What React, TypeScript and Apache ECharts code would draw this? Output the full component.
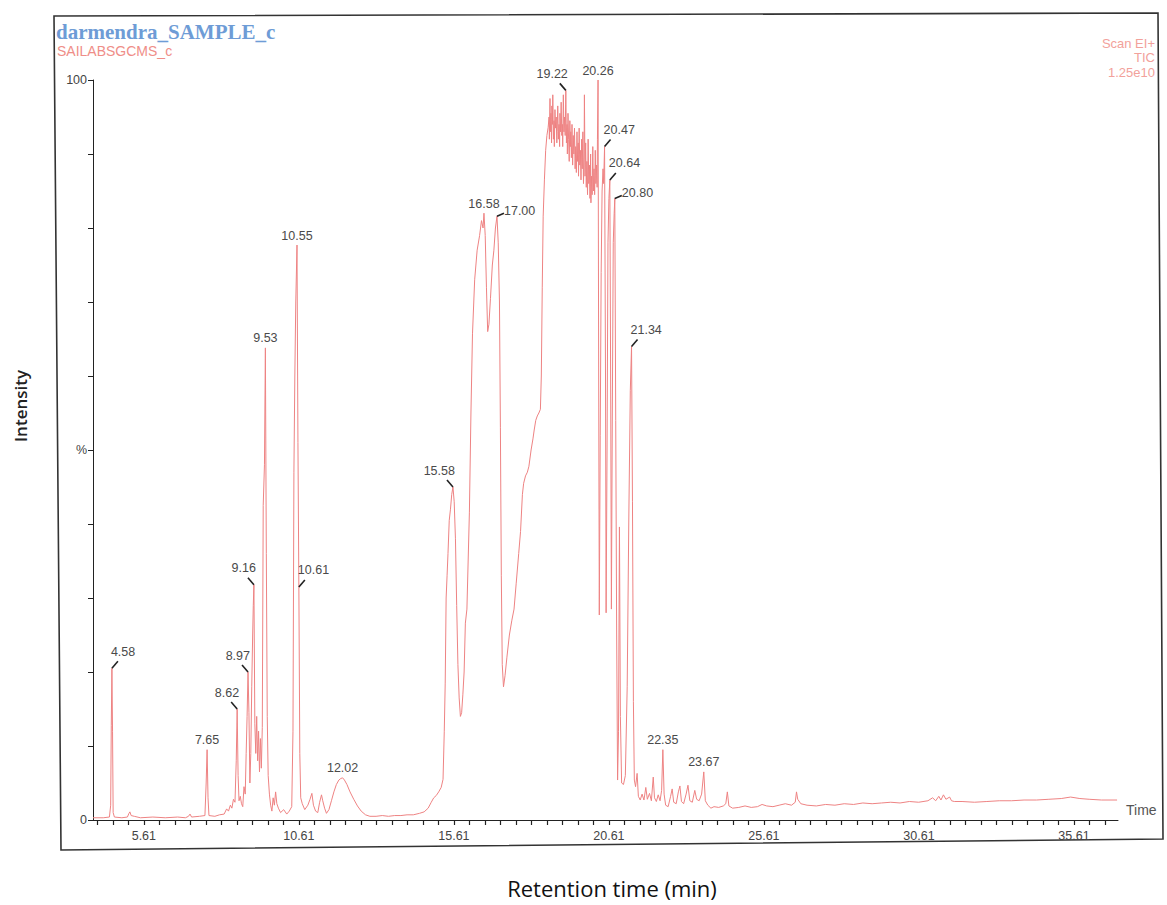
import React, { useEffect, useRef } from "react";
import * as echarts from "echarts";

// ---- Data (retention time in minutes, intensity in %) ----
const traceEarly: [number, number][] = [
  [3.97, 0.3], [4.3, 0.3], [4.5, 0.4], [4.54, 2.0], [4.56, 12.8], [4.58, 20.5], [4.6, 12.0], [4.62, 1.0], [4.66, 0.4],
  [4.9, 0.3], [5.08, 0.4], [5.13, 0.9], [5.16, 1.1], [5.2, 0.6], [5.3, 0.5], [5.5, 0.3], [5.9, 0.4], [6.3, 0.3],
  [6.7, 0.4], [6.95, 0.3], [7.05, 0.5], [7.1, 0.8], [7.15, 0.4], [7.4, 0.5], [7.58, 0.6], [7.62, 5.0], [7.65, 9.5],
  [7.68, 3.0], [7.71, 0.6], [7.9, 0.5], [8.05, 0.7], [8.2, 0.8], [8.28, 1.5], [8.34, 1.2], [8.4, 2.0], [8.45, 1.6],
  [8.5, 2.8], [8.55, 2.4], [8.59, 8.0], [8.62, 15.0], [8.65, 6.0], [8.68, 2.6], [8.72, 3.2], [8.76, 2.2], [8.8, 1.8],
  [8.84, 4.5], [8.88, 3.5], [8.91, 9.0], [8.94, 14.0], [8.97, 20.0], [9.0, 14.5], [9.03, 5.0], [9.06, 9.0],
  [9.09, 18.0], [9.12, 25.0], [9.14, 29.0], [9.16, 31.8], [9.19, 13.0], [9.22, 9.0], [9.25, 14.0], [9.28, 8.0],
  [9.31, 12.0], [9.34, 6.5], [9.37, 11.0], [9.4, 7.0], [9.43, 12.5], [9.46, 42.5], [9.5, 48.0], [9.53, 63.8],
  [9.56, 36.0], [9.59, 14.0], [9.62, 6.0], [9.66, 3.5], [9.7, 2.0], [9.74, 1.2], [9.78, 3.0], [9.82, 2.0],
  [9.86, 3.8], [9.9, 2.2], [9.95, 1.6], [10.02, 1.0], [10.12, 1.4], [10.22, 0.8], [10.3, 1.2], [10.38, 1.8],
  [10.42, 12.0], [10.45, 47.0], [10.48, 60.0], [10.51, 70.0], [10.55, 77.7], [10.58, 51.0], [10.61, 31.5],
  [10.64, 9.0], [10.67, 3.0],
];

const traceMid: [number, number][] = [
  [10.72, 2.2], [10.8, 1.4], [10.9, 2.0], [10.97, 2.8], [11.03, 3.6], [11.08, 2.0], [11.15, 1.2], [11.22, 1.0],
  [11.28, 2.4], [11.34, 3.4], [11.38, 2.6], [11.44, 1.6], [11.5, 0.9], [11.58, 1.4], [11.66, 2.6], [11.74, 3.8],
  [11.82, 4.8], [11.9, 5.4], [11.96, 5.6], [12.02, 5.7], [12.08, 5.4], [12.16, 4.8], [12.26, 3.8], [12.38, 2.8],
  [12.5, 1.9], [12.62, 1.2], [12.76, 0.7], [12.9, 0.5], [13.1, 0.5], [13.3, 0.6], [13.5, 0.5], [13.7, 0.6],
  [13.9, 0.6], [14.1, 0.7], [14.3, 0.7], [14.5, 0.9], [14.65, 1.1], [14.78, 1.6], [14.88, 2.4], [14.96, 3.0],
  [15.04, 3.3], [15.12, 3.8], [15.2, 4.4], [15.26, 5.5], [15.3, 12.0], [15.33, 18.5], [15.36, 30.0], [15.39, 33.0],
  [15.42, 36.0], [15.46, 40.5], [15.5, 42.0], [15.54, 44.0], [15.58, 45.0], [15.62, 43.0], [15.66, 38.0],
  [15.7, 29.0], [15.74, 21.0], [15.78, 16.5], [15.82, 14.0], [15.86, 14.5], [15.9, 17.0], [15.94, 20.0],
  [15.98, 26.6], [16.03, 28.5], [16.07, 35.0], [16.11, 41.6], [16.16, 55.0], [16.21, 65.7], [16.28, 73.0],
  [16.36, 77.0], [16.44, 79.0], [16.5, 81.0], [16.55, 80.0], [16.58, 82.0], [16.62, 79.0], [16.66, 72.0],
  [16.7, 66.0], [16.74, 67.0], [16.79, 70.5], [16.85, 75.0], [16.9, 77.0], [16.95, 80.0], [17.0, 81.6],
  [17.04, 78.0], [17.08, 70.0], [17.11, 53.0], [17.14, 33.0], [17.17, 21.0], [17.21, 18.0], [17.26, 19.5],
  [17.32, 22.0], [17.4, 25.0], [17.48, 27.0], [17.55, 28.5], [17.62, 32.0], [17.7, 36.0], [17.76, 39.0],
  [17.82, 44.0], [17.86, 45.5], [17.92, 46.5], [17.98, 47.0], [18.03, 47.8], [18.1, 50.0], [18.16, 51.5],
  [18.2, 52.7], [18.25, 54.0], [18.3, 54.6], [18.35, 55.0], [18.4, 55.5], [18.43, 60.0], [18.46, 72.0],
  [18.49, 81.6], [18.53, 86.5], [18.57, 90.5], [18.61, 92.5], [18.65, 93.6],
];

const traceHump: [number, number][] = [
  [18.68, 95.0], [18.69, 92.0], [18.71, 97.5], [18.72, 93.0], [18.74, 95.5], [18.76, 91.5], [18.77, 96.5],
  [18.79, 94.0], [18.8, 98.0], [18.82, 92.0], [18.84, 94.5], [18.85, 91.0], [18.87, 96.0], [18.89, 93.5],
  [18.91, 95.0], [18.93, 91.5], [18.94, 93.0], [18.96, 96.5], [18.98, 92.0], [19.0, 94.0], [19.02, 91.0],
  [19.03, 95.5], [19.05, 93.0], [19.07, 97.0], [19.09, 92.5], [19.11, 94.0], [19.12, 91.0], [19.14, 98.0],
  [19.16, 93.0], [19.18, 95.0], [19.2, 92.5], [19.22, 98.6], [19.24, 91.5], [19.26, 94.0], [19.27, 90.0],
  [19.29, 95.5], [19.31, 92.0], [19.33, 89.0], [19.35, 94.5], [19.37, 91.0], [19.38, 93.0], [19.4, 89.5],
  [19.42, 94.0], [19.44, 88.5], [19.46, 92.5], [19.48, 90.0], [19.5, 93.5], [19.52, 88.0], [19.54, 91.0],
  [19.56, 87.5], [19.58, 93.0], [19.6, 89.0], [19.62, 91.5], [19.63, 87.0], [19.65, 93.5], [19.67, 88.5],
  [19.69, 90.5], [19.71, 86.5], [19.73, 92.0], [19.75, 88.0], [19.77, 93.0], [19.79, 86.0], [19.81, 90.0],
  [19.82, 98.0], [19.84, 87.0], [19.86, 91.5], [19.88, 85.5], [19.9, 89.0], [19.92, 84.5], [19.94, 92.0],
  [19.96, 86.0], [19.98, 88.5], [20.0, 84.0], [20.02, 90.0], [20.03, 83.4], [20.05, 87.0], [20.07, 84.5],
  [20.09, 91.0], [20.11, 85.0], [20.13, 88.0], [20.15, 84.5], [20.17, 90.5], [20.19, 86.0], [20.21, 88.5],
  [20.23, 85.5], [20.24, 92.0], [20.26, 100.0], [20.28, 60.0],
  [20.3, 27.7], [20.33, 52.0], [20.36, 74.0], [20.39, 85.0], [20.42, 88.0], [20.44, 86.0], [20.47, 91.0],
  [20.5, 60.0], [20.52, 28.0], [20.55, 50.0], [20.58, 78.0], [20.61, 84.0], [20.64, 86.5], [20.67, 55.0],
  [20.69, 28.5], [20.72, 55.0], [20.75, 78.0], [20.78, 82.0], [20.8, 84.0], [20.83, 54.0], [20.86, 25.0],
  [20.89, 5.4], [20.92, 12.0], [20.95, 39.6], [20.98, 14.0], [21.02, 5.0], [21.08, 4.8], [21.14, 6.0],
  [21.2, 18.0], [21.25, 40.0], [21.3, 58.0], [21.34, 64.0], [21.37, 43.0], [21.4, 16.0], [21.43, 5.4],
];

const traceLate: [number, number][] = [
  [21.47, 4.5], [21.52, 6.3], [21.56, 3.2], [21.62, 2.7], [21.68, 3.5], [21.74, 2.7], [21.8, 4.4], [21.85, 2.8],
  [21.92, 3.6], [21.98, 2.6], [22.04, 5.8], [22.08, 3.0], [22.14, 2.5], [22.2, 3.4], [22.26, 2.6], [22.31, 4.0],
  [22.35, 9.5], [22.39, 3.5], [22.44, 2.0], [22.52, 1.8], [22.6, 3.2], [22.65, 4.2], [22.7, 2.4], [22.78, 2.2],
  [22.85, 3.8], [22.9, 4.6], [22.95, 2.5], [23.02, 2.2], [23.1, 3.5], [23.16, 4.7], [23.22, 2.6], [23.3, 2.4],
  [23.38, 4.0], [23.44, 2.8], [23.52, 2.6], [23.6, 3.5], [23.67, 6.5], [23.72, 2.6], [23.8, 2.0], [23.9, 1.6],
  [24.0, 1.8], [24.15, 1.7], [24.3, 1.9], [24.38, 2.2], [24.43, 3.8], [24.48, 1.9], [24.6, 1.6], [24.8, 1.7],
  [25.0, 1.9], [25.2, 1.7], [25.4, 1.8], [25.55, 2.1], [25.7, 1.9], [25.9, 1.8], [26.1, 2.0], [26.3, 2.2],
  [26.5, 2.0], [26.62, 2.4], [26.66, 3.8], [26.7, 2.8], [26.8, 2.2], [27.0, 2.0], [27.3, 1.9], [27.6, 2.1],
  [27.9, 2.0], [28.2, 2.2], [28.5, 2.1], [28.8, 2.3], [29.1, 2.2], [29.4, 2.3], [29.7, 2.4], [30.0, 2.3],
  [30.3, 2.5], [30.6, 2.4], [30.9, 2.6], [31.05, 3.0], [31.15, 2.6], [31.25, 3.2], [31.32, 2.7], [31.4, 3.4],
  [31.48, 2.8], [31.6, 3.1], [31.66, 2.6], [31.75, 2.5], [32.0, 2.5], [32.4, 2.4], [32.8, 2.5], [33.2, 2.6],
  [33.6, 2.6], [34.0, 2.7], [34.4, 2.7], [34.8, 2.8], [35.2, 2.9], [35.5, 3.1], [35.8, 2.9], [36.1, 2.8],
  [36.5, 2.7], [37.0, 2.7],
];

const peakTimes = [4.58, 7.65, 8.62, 8.97, 9.16, 9.53, 10.55, 10.61, 12.02, 15.58, 16.58, 17.0, 19.22, 20.26, 20.47, 20.64, 20.8, 21.34, 22.35, 23.67];
const peakHeights = [20.5, 9.5, 15.0, 20.0, 31.8, 63.8, 77.7, 31.5, 5.7, 45.0, 82.0, 81.6, 98.6, 100.0, 91.0, 86.5, 84.0, 64.0, 9.5, 6.5];

const timeTickLabels = [5.61, 10.61, 15.61, 20.61, 25.61, 30.61, 35.61];
const timeMin = 3.97;
const timeMax = 37.03;
const headerRight = ["Scan EI+", "TIC", "1.25e10"];

// label placement style for each peak label (not data)
const labelSide: Record<string, string> = {
  "4.58": "right", "7.65": "up", "8.62": "left", "8.97": "left", "9.16": "left", "9.53": "up",
  "10.55": "up", "10.61": "right", "12.02": "up", "15.58": "left", "16.58": "up", "17.00": "side",
  "19.22": "left", "20.26": "up", "20.47": "right", "20.64": "right", "20.80": "side", "21.34": "right",
  "22.35": "up", "23.67": "up",
};

const TRACE = "#ee8383";
const LABEL = "#4a4a4a";
const LEADER = "#222";
const FONT = "Liberation Sans, Arial, sans-serif";

export default function App() {
  const ref = useRef<HTMLDivElement>(null);
  useEffect(() => {
    if (!ref.current) return;
    const chart = echarts.init(ref.current, null, { renderer: "svg" });
    const trace = [...traceEarly, ...traceMid, ...traceHump, ...traceLate];
    const peaks = peakTimes.map((t, i) => [t, peakHeights[i]]);
    const minorTicks: number[] = [];
    for (let v = 4.11; v < timeMax; v += 0.5) minorTicks.push(Math.round(v * 100) / 100);

    const option: any = {
      animation: false,
      backgroundColor: "#fff",
      grid: { left: 93, top: 80, width: 1025, height: 740 },
      xAxis: {
        type: "value",
        min: timeMin,
        max: timeMax,
        axisLine: { show: true, lineStyle: { color: "#222", width: 1 } },
        axisTick: { show: true, customValues: minorTicks, length: 5, lineStyle: { color: "#222", width: 1.2 } },
        axisLabel: {
          customValues: timeTickLabels,
          formatter: (v: number) => v.toFixed(2),
          color: "#444",
          fontSize: 12.5,
          fontFamily: FONT,
          margin: 9,
        },
        splitLine: { show: false },
      },
      yAxis: {
        type: "value",
        min: 0,
        max: 100,
        interval: 10,
        axisLine: { show: true, lineStyle: { color: "#222", width: 1 } },
        axisTick: { show: true, length: 5, lineStyle: { color: "#222" } },
        axisLabel: {
          formatter: (v: number) => (v === 100 ? "100" : v === 0 ? "0" : v === 50 ? "%" : ""),
          color: "#444",
          fontSize: 12.5,
          fontFamily: FONT,
          margin: 6,
        },
        splitLine: { show: false },
      },
      series: [
        {
          type: "line",
          data: trace,
          showSymbol: false,
          symbol: "none",
          lineStyle: { color: TRACE, width: 1 },
          z: 2,
        },
        {
          type: "custom",
          data: peaks,
          clip: false,
          z: 3,
          renderItem: (params: any, api: any) => {
            const t = api.value(0);
            const v = api.value(1);
            const p = api.coord([t, v]);
            const text = Number(t).toFixed(2);
            const side = labelSide[text] || "up";
            const font = { fontSize: 12.5, fontFamily: FONT, fill: LABEL };
            if (side === "up") {
              return {
                type: "text",
                style: { text, x: p[0], y: p[1] - 3, align: "center", verticalAlign: "bottom", ...font },
              };
            }
            if (side === "left") {
              return {
                type: "group",
                children: [
                  { type: "line", shape: { x1: p[0], y1: p[1], x2: p[0] - 6, y2: p[1] - 7 }, style: { stroke: LEADER, lineWidth: 1.6 } },
                  { type: "text", style: { text, x: p[0] + 2, y: p[1] - 10, align: "right", verticalAlign: "bottom", ...font } },
                ],
              };
            }
            if (side === "right") {
              return {
                type: "group",
                children: [
                  { type: "line", shape: { x1: p[0], y1: p[1], x2: p[0] + 6, y2: p[1] - 7 }, style: { stroke: LEADER, lineWidth: 1.6 } },
                  { type: "text", style: { text, x: p[0] - 1, y: p[1] - 10, align: "left", verticalAlign: "bottom", ...font } },
                ],
              };
            }
            return {
              type: "group",
              children: [
                { type: "line", shape: { x1: p[0], y1: p[1], x2: p[0] + 7, y2: p[1] - 3 }, style: { stroke: LEADER, lineWidth: 1.6 } },
                { type: "text", style: { text, x: p[0] + 7, y: p[1] - 5, align: "left", verticalAlign: "middle", ...font } },
              ],
            };
          },
        },
      ],
      graphic: [
        {
          type: "polygon",
          shape: { points: [[54, 16], [1158, 13], [1163, 839], [61, 850]] },
          style: { fill: "none", stroke: "#333", lineWidth: 1.6 },
          silent: true,
        },
        {
          type: "text",
          left: 56,
          top: 21,
          style: { text: "darmendra_SAMPLE_c", fill: "#6e9cd6", fontSize: 21, fontWeight: "bold", fontFamily: "Liberation Serif, DejaVu Serif, serif" },
        },
        {
          type: "text",
          left: 57,
          top: 44,
          style: { text: "SAILABSGCMS_c", fill: "#ef8e88", fontSize: 14, fontFamily: FONT },
        },
        ...headerRight.map((s, i) => ({
          type: "text",
          x: 1155,
          y: 43 + i * 14.5,
          style: { text: s, fill: "#f2a19b", fontSize: 13, align: "right", verticalAlign: "middle", fontFamily: FONT },
        })),
        {
          type: "text",
          left: 1126,
          top: 803,
          style: { text: "Time", fill: "#555", fontSize: 14, fontFamily: FONT },
        },
        {
          type: "text",
          x: 20,
          y: 406,
          rotation: Math.PI / 2,
          style: { text: "Intensity", fill: "#222", fontSize: 17, fontWeight: 600, fontFamily: "Open Sans, sans-serif", align: "center", verticalAlign: "middle" },
        },
        {
          type: "text",
          x: 612,
          y: 888,
          style: { text: "Retention time (min)", fill: "#111", fontSize: 22, fontFamily: "Open Sans, sans-serif", align: "center", verticalAlign: "middle" },
        },
      ],
    };
    chart.setOption(option);
    return () => chart.dispose();
  }, []);
  return <div ref={ref} style={{ position: "absolute", left: 0, top: 0, width: 1167, height: 905 }} />;
}
